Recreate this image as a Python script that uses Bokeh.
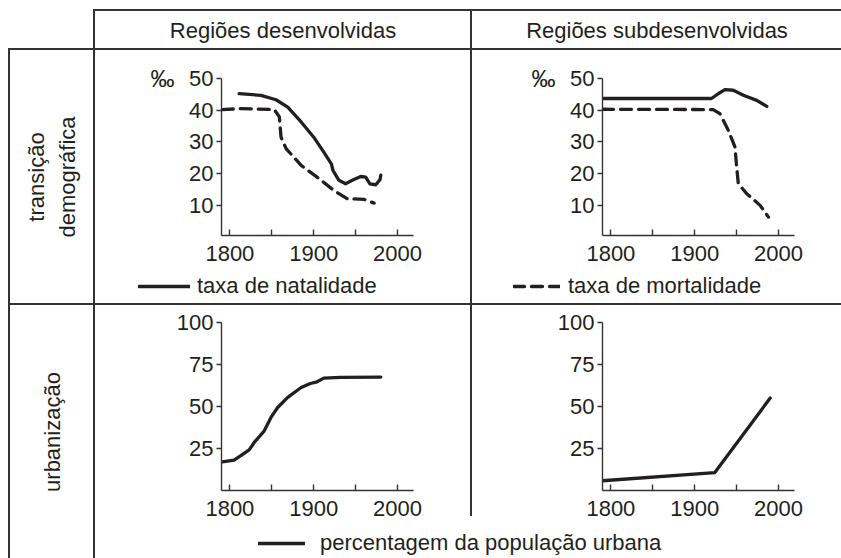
from math import pi
from bokeh.plotting import figure
from bokeh.layouts import row, column
from bokeh.models import FixedTicker, Legend, LegendItem, LinearAxis, Range1d, Spacer
from bokeh.core.properties import value
from bokeh.embed import file_html
from bokeh.resources import INLINE

# ---------------- data ----------------
col_titles = ["Regiões desenvolvidas", "Regiões subdesenvolvidas"]
row_titles = ["transição\ndemográfica", "urbanização"]
legend_labels = ["taxa de natalidade", "taxa de mortalidade", "percentagem da população urbana"]
unit_label = "‰"

x_ticks = [1800, 1900, 2000]
x_minor = [1850, 1950]
rate_ticks = [10, 20, 30, 40, 50]
urban_ticks = [25, 50, 75, 100]

dev_birth_years = [1811, 1837, 1855, 1869, 1885, 1900, 1912, 1921, 1923, 1930, 1938, 1946, 1956, 1962, 1967, 1974, 1979, 1980]
dev_birth = [45.2, 44.7, 43.3, 41.0, 36.3, 31.5, 26.8, 23.1, 21.0, 17.9, 16.8, 17.9, 19.1, 18.9, 16.8, 16.5, 18.1, 19.5]

dev_death_years = [1791, 1813, 1853, 1859, 1861, 1867, 1885, 1904, 1924, 1940, 1960, 1972]
dev_death = [40.2, 40.5, 40.2, 37.9, 31.5, 27.9, 22.6, 18.9, 14.7, 12.1, 11.9, 10.7]

und_birth_years = [1790, 1920, 1928, 1936, 1946, 1958, 1974, 1986]
und_birth = [43.7, 43.7, 45.2, 46.5, 46.3, 44.7, 43.1, 41.2]

und_death_years = [1790, 1922, 1930, 1940, 1948, 1950, 1952, 1962, 1978, 1988]
und_death = [40.3, 40.2, 38.9, 33.7, 28.4, 22.1, 16.8, 13.7, 10.0, 6.3]

urban_dev_years = [1791, 1805, 1813, 1823, 1829, 1841, 1849, 1857, 1869, 1885, 1896, 1904, 1912, 1932, 1980]
urban_dev = [17.1, 18.1, 20.7, 24.2, 28.6, 35.5, 43.5, 49.4, 55.4, 61.3, 63.7, 64.7, 66.9, 67.3, 67.5]

urban_und_years = [1790, 1924, 1990]
urban_und = [5.8, 10.7, 55.0]

# ---------------- style ----------------
FONT = "Liberation Sans"
INK = "#231f20"
RULE = "#333333"
TICK_SIZE = "22px"
TEXT_SIZE = "22px"
LW = 3.3
DASH = "11 7"


def blank(w, h):
    return Spacer(width=w, height=h)


def rl(w, h):
    return Spacer(width=w, height=h, styles={"background-color": RULE})


def bare(w, h, **kw):
    p = figure(width=w, height=h, toolbar_location=None, output_backend="svg",
               min_border=0, x_axis_location=None, y_axis_location=None,
               outline_line_color=None, title=None, **kw)
    p.grid.visible = False
    return p


def text_cell(w, h, txt, angle=0.0):
    p = bare(w, h, x_range=Range1d(0, 1), y_range=Range1d(0, 1))
    p.text(x=[0.5], y=[0.5], text=[txt], angle=angle, text_align="center",
           text_baseline="middle", text_font=value(FONT), text_font_size=TEXT_SIZE,
           text_color=INK, text_line_height=1.25)
    return p


def panel(w, h, y_range, y_ticks, borders, unit=None):
    left, right, top, bottom = borders
    p = figure(width=w, height=h, x_range=Range1d(1790, 2019), y_range=Range1d(*y_range),
               toolbar_location=None, output_backend="svg", outline_line_color=None,
               min_border_left=left, min_border_right=right,
               min_border_top=top, min_border_bottom=bottom, title=None)
    p.grid.visible = False
    xa = p.xaxis[0]
    xa.ticker = FixedTicker(ticks=x_ticks, minor_ticks=x_minor)
    xa.major_tick_in = 6
    xa.major_tick_out = 0
    xa.minor_tick_in = 6
    xa.minor_tick_out = 0
    xa.major_label_standoff = 10
    ya = p.yaxis[0]
    ya.ticker = FixedTicker(ticks=y_ticks, minor_ticks=[])
    ya.major_tick_in = 0
    ya.major_tick_out = 5
    ya.minor_tick_out = 0
    ya.major_label_standoff = 3
    for ax in (xa, ya):
        ax.axis_line_color = RULE
        ax.axis_line_width = 1.4
        ax.major_tick_line_color = RULE
        ax.major_tick_line_width = 1.4
        ax.minor_tick_line_color = RULE
        ax.minor_tick_line_width = 1.4
        ax.major_label_text_font = FONT
        ax.major_label_text_font_size = TICK_SIZE
        ax.major_label_text_color = INK
    if unit is not None:
        top_val = y_ticks[-1]
        ua = LinearAxis(ticker=FixedTicker(ticks=[top_val], minor_ticks=[]),
                        major_label_overrides={top_val: unit},
                        axis_line_color=None, major_tick_line_color=None,
                        minor_tick_line_color=None, major_tick_in=0, major_tick_out=0,
                        minor_tick_in=0, minor_tick_out=0, major_label_standoff=12,
                        major_label_text_font=FONT, major_label_text_font_size="24px",
                        major_label_text_color=INK)
        p.add_layout(ua, "left")
    return p


def line(p, xs, ys, dash="solid"):
    return p.line(xs, ys, line_width=LW, line_color=INK, line_dash=dash,
                  line_cap="round", line_join="round")


def legend_fig(w, h, label, xs, ys, dash, x, y, glyph_w, standoff):
    p = bare(w, h, x_range=Range1d(0, 1), y_range=Range1d(0, 1))
    r = line(p, xs, ys, dash)  # drawn outside the view; used for the legend key
    leg = Legend(items=[LegendItem(label=label, renderers=[r])],
                 location=(x, y), orientation="horizontal", glyph_width=glyph_w,
                 glyph_height=20, label_standoff=standoff, padding=0, margin=0,
                 spacing=0, border_line_color=None, background_fill_alpha=0,
                 label_text_font=FONT, label_text_font_size=TEXT_SIZE,
                 label_text_color=INK)
    p.add_layout(leg)
    return p


# ---------------- panels ----------------
TL = panel(375, 218, (0.5, 50), rate_ticks, (126, 57, 28, 33), unit_label)
line(TL, dev_birth_years, dev_birth)
line(TL, dev_death_years, dev_death, DASH)

TR = panel(369, 218, (0.5, 50), rate_ticks, (130, 47, 28, 33), unit_label)
line(TR, und_birth_years, und_birth)
line(TR, und_death_years, und_death, DASH)

BL = panel(375, 218, (0, 100), urban_ticks, (126, 57, 17, 33))
line(BL, urban_dev_years, urban_dev)

BR = panel(369, 218, (0, 100), urban_ticks, (130, 47, 17, 33))
line(BR, urban_und_years, urban_und)

legTL = legend_fig(375, 35, legend_labels[0], dev_birth_years, dev_birth, "solid", 43, 4, 52, 7)
legTR = legend_fig(369, 35, legend_labels[1], und_death_years, und_death, DASH, 41, 4, 47, 8)
legB = legend_fig(746, 35, legend_labels[2], urban_dev_years, urban_dev, "solid", 163, 2, 47, 15)

# ---------------- table ----------------
header = row(
    blank(93, 48),
    column(blank(748, 9), rl(748, 2),
           row(rl(2, 37), text_cell(375, 37, col_titles[0]), rl(2, 37),
               text_cell(369, 37, col_titles[1]))),
)
row1 = row(blank(8, 253), rl(2, 253), text_cell(83, 253, row_titles[0], angle=pi / 2),
           rl(2, 253),
           column(row(TL, rl(2, 218), TR), row(legTL, rl(2, 35), legTR)))
row2 = row(blank(8, 253), rl(2, 253), text_cell(83, 253, row_titles[1], angle=pi / 2),
           rl(2, 253),
           column(row(BL, column(rl(2, 211), blank(2, 7)), BR), legB))
layout = column(header,
                row(blank(8, 2), rl(833, 2)),
                row1,
                row(blank(8, 2), rl(833, 2)),
                row2)

open("out.html", "w").write(file_html(layout, INLINE))
